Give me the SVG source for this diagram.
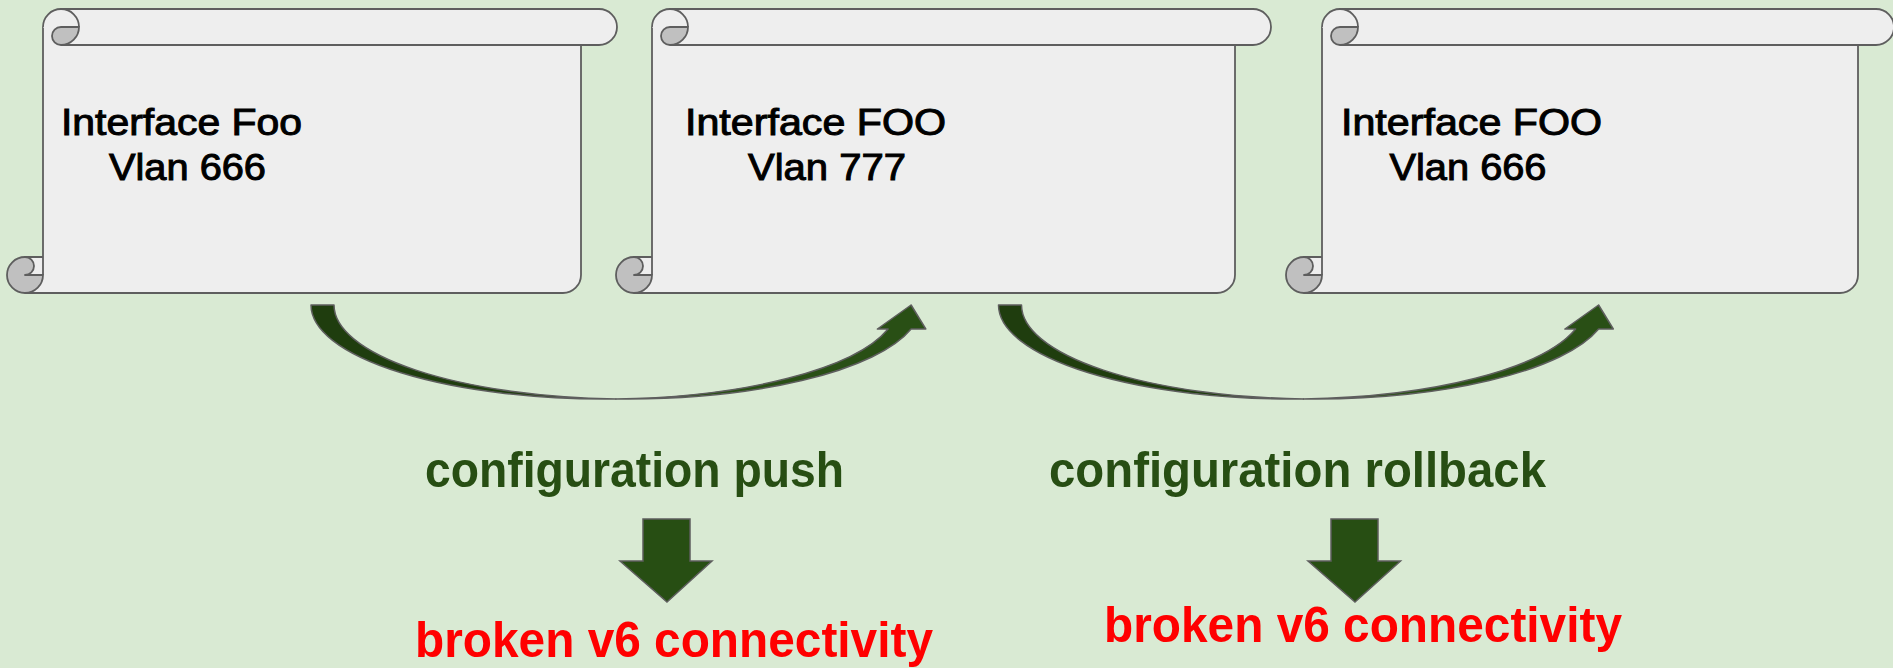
<svg xmlns="http://www.w3.org/2000/svg" width="1893" height="668" viewBox="0 0 1893 668">
<style>
.bg{fill:#d9ead3}
.pf{fill:#eeeeee;stroke:none}
.ps{fill:none;stroke:#5e5e5e;stroke-width:1.8;stroke-linejoin:round}
.curl{fill:#c0c0c0;stroke:#5e5e5e;stroke-width:1.8;stroke-linejoin:round}
.bar{fill:#eeeeee;stroke:#5e5e5e;stroke-width:1.8;stroke-linejoin:round}
.lbl{font-family:"Liberation Sans",Arial,sans-serif;font-size:37px;fill:#000000;stroke:#000000;stroke-width:1}
.big{font-family:"Liberation Sans",Arial,sans-serif;font-size:50px;font-weight:bold}
.grn{fill:#274e13}
.red{fill:#ff0000}
.arrL{fill:#1f3d0e;stroke:#5e5e5e;stroke-width:1.5;stroke-linejoin:round}
.arrR{fill:#294f15;stroke:#5e5e5e;stroke-width:1.5;stroke-linejoin:round}
.down{fill:#274e13;stroke:#5e5e5e;stroke-width:1.5;stroke-linejoin:miter}
</style>
<rect class="bg" x="0" y="0" width="1893" height="668"/>

<g id="scroll1" transform="translate(7,9)">
  <path class="pf" d="M36,18 L574,18 L574,266 A18,18 0 0 1 556,284 L18,284 L18,248 L36,248 Z"/>
  <path class="ps" d="M36,18 L36,266 M574,36 L574,266 A18,18 0 0 1 556,284 L18,284 M18,248 L36,248"/>
  <path class="curl" d="M18,248 A18,18 0 1 0 36,266 L18,266 A9,9 0 0 0 18,248 Z"/>
  <path class="bar" d="M36,18 A18,18 0 0 1 54,0 L592,0 A18,18 0 0 1 592,36 L54,36"/>
  <path class="ps" d="M54,0 A18,18 0 0 1 72,18"/>
  <path class="curl" d="M54,18 L72,18 A18,18 0 0 1 54,36 A9,9 0 0 1 54,18 Z"/>
  <text class="lbl" x="54" y="126" textLength="241" lengthAdjust="spacingAndGlyphs">Interface Foo</text>
  <text class="lbl" x="102" y="171" textLength="157" lengthAdjust="spacingAndGlyphs">Vlan 666</text>
</g>

<g id="scroll2" transform="translate(616,9)">
  <path class="pf" d="M36,18 L619,18 L619,266 A18,18 0 0 1 601,284 L18,284 L18,248 L36,248 Z"/>
  <path class="ps" d="M36,18 L36,266 M619,36 L619,266 A18,18 0 0 1 601,284 L18,284 M18,248 L36,248"/>
  <path class="curl" d="M18,248 A18,18 0 1 0 36,266 L18,266 A9,9 0 0 0 18,248 Z"/>
  <path class="bar" d="M36,18 A18,18 0 0 1 54,0 L637,0 A18,18 0 0 1 637,36 L54,36"/>
  <path class="ps" d="M54,0 A18,18 0 0 1 72,18"/>
  <path class="curl" d="M54,18 L72,18 A18,18 0 0 1 54,36 A9,9 0 0 1 54,18 Z"/>
  <text class="lbl" x="69" y="126" textLength="261" lengthAdjust="spacingAndGlyphs">Interface FOO</text>
  <text class="lbl" x="132" y="171" textLength="158" lengthAdjust="spacingAndGlyphs">Vlan 777</text>
</g>

<g id="scroll3" transform="translate(1286,9)">
  <path class="pf" d="M36,18 L572,18 L572,266 A18,18 0 0 1 554,284 L18,284 L18,248 L36,248 Z"/>
  <path class="ps" d="M36,18 L36,266 M572,36 L572,266 A18,18 0 0 1 554,284 L18,284 M18,248 L36,248"/>
  <path class="curl" d="M18,248 A18,18 0 1 0 36,266 L18,266 A9,9 0 0 0 18,248 Z"/>
  <path class="bar" d="M36,18 A18,18 0 0 1 54,0 L590,0 A18,18 0 0 1 590,36 L54,36"/>
  <path class="ps" d="M54,0 A18,18 0 0 1 72,18"/>
  <path class="curl" d="M54,18 L72,18 A18,18 0 0 1 54,36 A9,9 0 0 1 54,18 Z"/>
  <text class="lbl" x="55" y="126" textLength="261" lengthAdjust="spacingAndGlyphs">Interface FOO</text>
  <text class="lbl" x="103.5" y="171" textLength="157" lengthAdjust="spacingAndGlyphs">Vlan 666</text>
</g>

<g id="connectors">
  <g id="push-arrow">
    <path class="arrL" d="M311,305 A293.4,94 0 0 0 615.9,398.9 A293.4,94 0 0 1 334,305 Z"/>
    <path class="arrR" d="M615.9,398.9 A293.4,94 0 0 0 911.1,329 L925.8,329 L911.1,305 L877.4,329 L888.1,329 A293.4,94 0 0 1 615.9,398.9 Z"/>
  </g>
  <g id="rollback-arrow">
    <path class="arrL" d="M998.5,305 A293.4,94 0 0 0 1303.4,398.9 A293.4,94 0 0 1 1021.5,305 Z"/>
    <path class="arrR" d="M1303.4,398.9 A293.4,94 0 0 0 1598.6,329 L1613.3,329 L1598.6,305 L1564.9,329 L1575.6,329 A293.4,94 0 0 1 1303.4,398.9 Z"/>
  </g>
</g>

<g id="label-push">
  <text class="big grn" x="425" y="487" textLength="419" lengthAdjust="spacingAndGlyphs">configuration push</text>
</g>
<g id="label-rollback">
  <text class="big grn" x="1049" y="487" textLength="497" lengthAdjust="spacingAndGlyphs">configuration rollback</text>
</g>
<g id="down-arrow1">
  <path class="down" d="M643,519 L690,519 L690,561 L712,561 L667,602 L620,561 L643,561 Z"/>
</g>
<g id="down-arrow2">
  <path class="down" d="M1331,519 L1378,519 L1378,561 L1400.5,561 L1355,602 L1308,561 L1331,561 Z"/>
</g>
<g id="result1">
  <text class="big red" x="415" y="657" textLength="518" lengthAdjust="spacingAndGlyphs">broken v6 connectivity</text>
</g>
<g id="result2">
  <text class="big red" x="1104" y="642" textLength="518" lengthAdjust="spacingAndGlyphs">broken v6 connectivity</text>
</g>
</svg>
